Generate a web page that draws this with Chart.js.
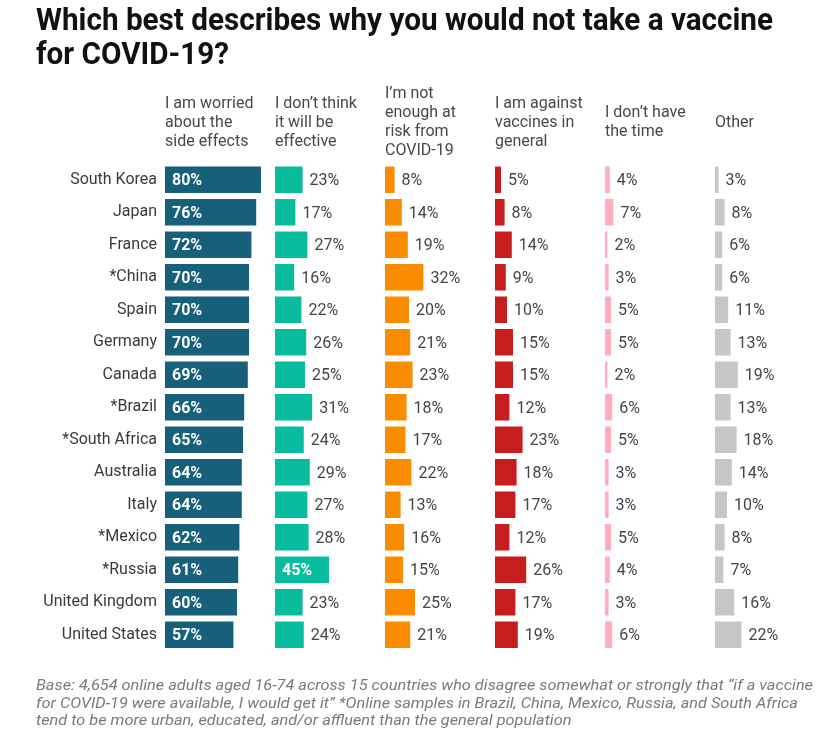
<!DOCTYPE html>
<html><head><meta charset="utf-8">
<script src="https://cdn.jsdelivr.net/npm/chart.js@4.4.0/dist/chart.umd.min.js"></script>
<style>
html,body{margin:0;padding:0;background:#fff;}
#wrap{position:relative;width:820px;height:737px;overflow:hidden;background:#fff;}
#title{position:absolute;left:36px;top:2.5px;font-family:Roboto,sans-serif;font-weight:700;font-size:31px;line-height:34px;color:#111;white-space:nowrap;transform-origin:0 0;}
#note{position:absolute;left:36px;top:677px;font-family:Roboto,sans-serif;font-style:italic;font-size:14px;line-height:17.5px;color:#7a7a7a;white-space:nowrap;transform-origin:0 0;}
#c{position:absolute;left:0;top:0;}
</style></head>
<body>
<div id="wrap">
<canvas id="c" width="820" height="737"></canvas>
<div id="title"><span id="t1">Which best describes why you would not take a vaccine</span><br>for COVID-19?</div>
<div id="note"><span id="n1">Base: 4,654 online adults aged 16-74 across 15 countries who disagree somewhat or strongly that “if a vaccine</span><br>for COVID-19 were available, I would get it” *Online samples in Brazil, China, Mexico, Russia, and South Africa<br>tend to be more urban, educated, and/or affluent than the general population</div>
</div>
<script>
const countries = ["South Korea","Japan","France","*China","Spain","Germany","Canada","*Brazil","*South Africa","Australia","Italy","*Mexico","*Russia","United Kingdom","United States"];
const reasons = [
  ["I am worried","about the","side effects"],
  ["I don\u2019t think","it will be","effective"],
  ["I\u2019m not","enough at","risk from","COVID-19"],
  ["I am against","vaccines in","general"],
  ["I don\u2019t have","the time"],
  ["Other"]
];
const sideEffects     = [80,76,72,70,70,70,69,66,65,64,64,62,61,60,57];
const notEffective    = [23,17,27,16,22,26,25,31,24,29,27,28,45,23,24];
const notAtRisk       = [8,14,19,32,20,21,23,18,17,22,13,16,15,25,21];
const againstVaccines = [5,8,14,9,10,15,15,12,23,18,17,12,26,17,19];
const noTime          = [4,7,2,3,5,5,2,6,5,3,3,5,4,3,6];
const other           = [3,8,6,6,11,13,19,13,18,14,10,8,7,16,22];

const seriesValues = [sideEffects, notEffective, notAtRisk, againstVaccines, noTime, other];
const colors = ['#16607a','#0abc9e','#fb8c00','#c81d1e','#ffadbb','#c6c6c6'];

function fitWidth(el, lineEl, target){
  const w = lineEl.getBoundingClientRect().width;
  if (w > 0) el.style.transform = 'scaleX(' + (target / w) + ')';
}

const valueLabels = {
  id: 'valueLabels',
  afterDatasetsDraw(chart){
    const ctx = chart.ctx;
    chart.data.datasets.forEach((ds, i) => {
      const meta = chart.getDatasetMeta(i);
      meta.data.forEach((bar, j) => {
        const v = ds.data[j];
        ctx.save();
        ctx.textBaseline = 'middle';
        ctx.textAlign = 'left';
        if (v >= 40) {
          ctx.font = '700 16px Roboto';
          ctx.fillStyle = '#ffffff';
          ctx.fillText(v + '%', bar.base + 7, bar.y + 1.5);
        } else {
          ctx.font = '400 16px Roboto';
          ctx.fillStyle = '#454545';
          ctx.fillText(v + '%', bar.x + 7, bar.y + 1.5);
        }
        ctx.restore();
      });
    });
  }
};

const headers = {
  id: 'headers',
  afterDraw(chart){
    const ctx = chart.ctx;
    ctx.save();
    ctx.font = '400 16px Roboto';
    ctx.fillStyle = '#484848';
    ctx.textBaseline = 'middle';
    ctx.textAlign = 'left';
    reasons.forEach((lines, i) => {
      const s = chart.scales['x' + i];
      const n = lines.length;
      lines.forEach((t, k) => ctx.fillText(t, s.left, 122.5 + (k - (n - 1) / 2) * 19));
    });
    ctx.restore();
  }
};

function build(){
  fitWidth(document.getElementById('title'), document.getElementById('t1'), 737);
  fitWidth(document.getElementById('note'), document.getElementById('n1'), 777);

  const scales = {
    y: {
      type: 'category',
      position: 'left',
      grid: {display: false, drawTicks: false},
      border: {display: false},
      ticks: {padding: 8, color: '#3a3a3a', font: {family: 'Roboto', size: 16}},
      afterFit(s){ s.width = 165; }
    }
  };
  seriesValues.forEach((v, i) => {
    scales['x' + i] = {
      type: 'linear',
      position: 'bottom',
      stack: 'cols',
      stackWeight: i < 5 ? 1.1 : 1.0,
      min: 0,
      max: i < 5 ? 110 / 1.2 : 100 / 1.2,
      display: false
    };
  });

  new Chart(document.getElementById('c'), {
    type: 'bar',
    data: {
      labels: countries,
      datasets: seriesValues.map((v, i) => ({
        label: reasons[i].join(' '),
        data: v,
        backgroundColor: colors[i],
        xAxisID: 'x' + i,
        yAxisID: 'y',
        grouped: false,
        barPercentage: 0.82,
        categoryPercentage: 1
      }))
    },
    options: {
      indexAxis: 'y',
      responsive: false,
      animation: false,
      maintainAspectRatio: false,
      layout: {padding: {left: 0, right: 5, top: 163.5, bottom: 86}},
      plugins: {legend: {display: false}, tooltip: {enabled: false}, title: {display: false}},
      scales: scales
    },
    plugins: [valueLabels, headers]
  });
}
if (document.fonts && document.fonts.ready) { document.fonts.ready.then(build); } else { build(); }
</script>
</body></html>
